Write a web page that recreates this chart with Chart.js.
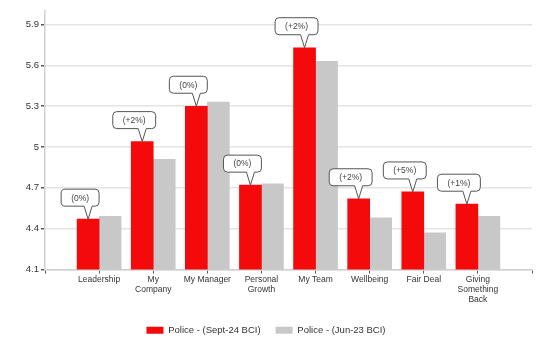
<!DOCTYPE html>
<html>
<head>
<meta charset="utf-8">
<script src="https://cdn.jsdelivr.net/npm/chart.js@4"></script>
<style>
  html, body { margin: 0; padding: 0; background: #fff; }
  #wrap { width: 549px; height: 350px; }
</style>
</head>
<body>
<div id="wrap"><canvas id="myChart"></canvas></div>
<script>
// data
const categories = ["Leadership", ["My", "Company"], "My Manager", ["Personal", "Growth"], "My Team", "Wellbeing", "Fair Deal", ["Giving", "Something", "Back"]];
const sept24 = [4.47, 5.04, 5.30, 4.72, 5.73, 4.62, 4.67, 4.58];
const jun23 = [4.49, 4.91, 5.33, 4.73, 5.63, 4.48, 4.37, 4.49];
const changes = ["(0%)", "(+2%)", "(0%)", "(0%)", "(+2%)", "(+2%)", "(+5%)", "(+1%)"];
const yTicks = [4.1, 4.4, 4.7, 5.0, 5.3, 5.6, 5.9];

const FONT = "'Liberation Sans', Arial, sans-serif";

// empty slot each side, like the original axis
const labels = [""].concat(categories, [""]);
const pad = (arr) => [null].concat(arr, [null]);

// speech-bubble labels above the red bars
const calloutPlugin = {
  id: "callouts",
  afterDatasetsDraw(chart) {
    const c = chart.ctx;
    const meta = chart.getDatasetMeta(0);
    c.save();
    c.font = "8.5px " + FONT;
    c.textAlign = "center";
    c.textBaseline = "middle";
    changes.forEach((txt, i) => {
      const bar = meta.data[i + 1];
      if (!bar) return;
      const tipX = bar.x;
      const tipY = bar.y;
      const w = c.measureText(txt).width + 20;
      const h = 17;
      const bottom = tipY - 13;
      const top = bottom - h;
      const left = tipX - 8 - w / 2;
      const r = 4;
      c.beginPath();
      c.moveTo(left + r, top);
      c.lineTo(left + w - r, top);
      c.quadraticCurveTo(left + w, top, left + w, top + r);
      c.lineTo(left + w, bottom - r);
      c.quadraticCurveTo(left + w, bottom, left + w - r, bottom);
      c.lineTo(tipX + 4, bottom);
      c.lineTo(tipX, tipY);
      c.lineTo(tipX - 4, bottom);
      c.lineTo(left + r, bottom);
      c.quadraticCurveTo(left, bottom, left, bottom - r);
      c.lineTo(left, top + r);
      c.quadraticCurveTo(left, top, left + r, top);
      c.closePath();
      c.fillStyle = "#fff";
      c.fill();
      c.strokeStyle = "#555";
      c.lineWidth = 1;
      c.stroke();
      c.fillStyle = "#444";
      c.fillText(txt, left + w / 2, top + h / 2 + 0.5);
    });
    c.restore();
  }
};

const ctx = document.getElementById("myChart");
new Chart(ctx, {
  type: "bar",
  data: {
    labels: labels,
    datasets: [
      {
        label: "Police - (Sept-24 BCI)",
        data: pad(sept24),
        backgroundColor: "#f40a0a",
        barThickness: 22
      },
      {
        label: "Police - (Jun-23 BCI)",
        data: pad(jun23),
        backgroundColor: "#c8c8c8",
        barThickness: 22
      }
    ]
  },
  options: {
    responsive: true,
    maintainAspectRatio: false,
    animation: false,
    layout: { padding: { top: 11, right: 17, left: 0, bottom: 5 } },
    plugins: {
      tooltip: { enabled: false },
      legend: {
        position: "bottom",
        labels: {
          boxWidth: 17,
          boxHeight: 7,
          padding: 15,
          color: "#333",
          font: { family: FONT, size: 9.5 }
        }
      }
    },
    scales: {
      x: {
        offset: false,
        grid: { offset: false, drawOnChartArea: false, drawTicks: true, tickLength: 4, tickColor: "#555" },
        border: { color: "#d0d0d0", width: 1.5 },
        ticks: {
          autoSkip: false,
          maxRotation: 0,
          padding: 1,
          color: "#333",
          font: { family: FONT, size: 8.5, lineHeight: 1.2 }
        },
        afterFit: (scale) => { scale.height = 41; }
      },
      y: {
        min: 4.1,
        max: 6.0,
        afterBuildTicks: (scale) => {
          scale.ticks = yTicks.map((v) => ({ value: v }));
        },
        grid: { color: "#e4e4e4", lineWidth: 1.5, tickLength: 4, tickColor: "#555" },
        border: { color: "#d0d0d0", width: 1.5 },
        ticks: {
          padding: 2,
          color: "#333",
          font: { family: FONT, size: 9.5 },
          callback: (v) => String(Math.round(v * 10) / 10)
        },
        afterFit: (scale) => { scale.width = 45; }
      }
    }
  },
  plugins: [calloutPlugin]
});
</script>
</body>
</html>
